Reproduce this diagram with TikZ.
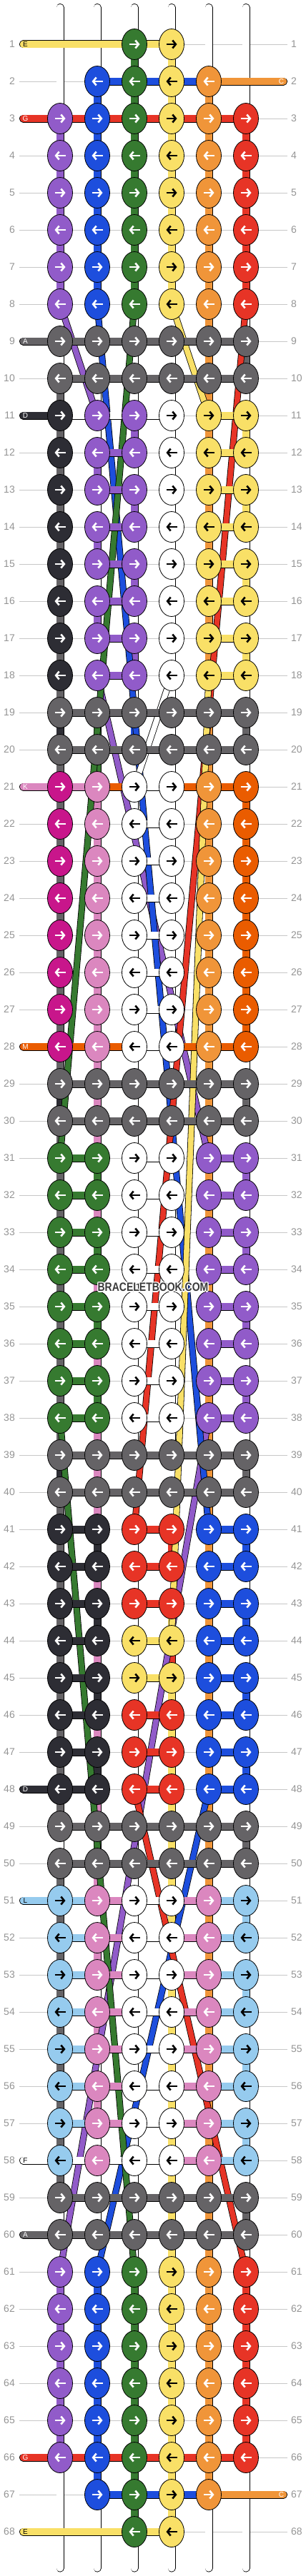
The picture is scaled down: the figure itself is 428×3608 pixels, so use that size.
\documentclass[tikz,border=0pt]{standalone}
\usepackage{fontspec}
\setmainfont{Liberation Sans}
\usetikzlibrary{shapes.geometric,arrows.meta}
\definecolor{kcp}{HTML}{915BC9}\colorlet{kap}{white}
\definecolor{kcb}{HTML}{1D4EDD}\colorlet{kab}{white}
\definecolor{kcg}{HTML}{367A30}\colorlet{kag}{white}
\definecolor{kcy}{HTML}{F9E067}\colorlet{kay}{black}
\definecolor{kco}{HTML}{F09539}\colorlet{kao}{white}
\definecolor{kcr}{HTML}{E73426}\colorlet{kar}{white}
\definecolor{kca}{HTML}{656366}\colorlet{kaa}{white}
\definecolor{kcd}{HTML}{2D2D34}\colorlet{kad}{white}
\definecolor{kcw}{HTML}{FFFFFF}\colorlet{kaw}{black}
\definecolor{kcm}{HTML}{C8168B}\colorlet{kam}{white}
\definecolor{kck}{HTML}{DB87BF}\colorlet{kak}{white}
\definecolor{kcn}{HTML}{EA5C00}\colorlet{kan}{white}
\definecolor{kcl}{HTML}{96CBEE}\colorlet{kal}{black}
\definecolor{wmark}{HTML}{3A3A3A}
\pgfdeclarelayer{bg}\pgfdeclarelayer{vc}\pgfdeclarelayer{flt}\pgfdeclarelayer{hc}
\pgfsetlayers{bg,vc,flt,hc,main}
\newcommand\knot[3]{%
  \node[knot, fill=kc#3] (k#1-#2) at ({84+52*(#2-1)},{62+52*(#1-1)}) {};
  \ifodd#1\relax
    \draw[arw, draw=ka#3] ([xshift=-7.5pt]k#1-#2.center) -- ([xshift=7.5pt]k#1-#2.center);
  \else
    \draw[arw, draw=ka#3] ([xshift=7.5pt]k#1-#2.center) -- ([xshift=-7.5pt]k#1-#2.center);
  \fi}
\newcommand\krow[2]{\foreach \cc/\c in {#2}{\knot{#1}{\c}{\cc}}}
\newcommand\vgap[2]{\pgfmathtruncatemacro\nr{#1+1}%
  \foreach \cc/\c in {#2}{\draw[conn=\cc] (k#1-\c.center) -- (k\nr-\c.center);}}
\newcommand\hrow[2]{\foreach \cc/\c in {#2}{\pgfmathtruncatemacro\nc{\c+1}%
  \draw[conn=\cc] (k#1-\c.center) -- (k#1-\nc.center);}}
\newcommand\lpill[5]{%
  \coordinate (e#1) at (32.5,{62+52*(#1-1)});
  \draw[conn=#3, line cap=round] (e#1) -- (k#1-#2.center);
  \node[pilllab, text=#5] (el#1) at (35.5,{62+52*(#1-1)}) {#4};}
\newcommand\rpill[3]{%
  \coordinate (f#1) at (396.5,{62+52*(#1-1)});
  \draw[conn=#2, line cap=round] (k#1-5.center) -- (f#1);
  \node[pilllab, text=white] (fl#1) at (393.5,{62+52*(#1-1)}) {#3};}
\newcommand\tube[2]{%
  \draw[conn=w, line cap=round] (#1) -- (#2.center);
  \draw[black!35, line width=2.6pt] (#1) -- (#2.center);
  \draw[white, line width=1.1pt] (#1) -- (#2.center);}
\begin{document}
\begin{tikzpicture}[x=1pt,y=-1pt,
  knot/.style={ellipse, draw=black, line width=0.8pt, minimum width=35pt, minimum height=43pt, inner sep=0pt},
  arw/.style={line width=2.6pt, -{Straight Barb[length=4.5pt,width=11pt]}},
  conn/.style={line width=0.8pt, draw=black, double=kc#1, double distance=9.4pt},
  fstr/.style={line width=0.8pt, draw=black, double=kc#1, double distance=7.6pt},
  rowline/.style={draw=black!22, line width=0.9pt},
  rowlab/.style={text=black!42, font=\fontsize{14}{14}\selectfont, inner sep=0pt},
  pilllab/.style={font=\fontsize{10}{10}\selectfont, inner sep=0pt},
  wmk/.style={font=\fontsize{14}{14}\selectfont\bfseries, inner sep=0pt}]
\useasboundingbox (0,0) rectangle (428,3608);
% knots
\krow{1}{g/3,y/4}
\krow{2}{b/2,g/3,y/4,o/5}
\foreach \r in {3,...,8}{\krow{\r}{p/1,b/2,g/3,y/4,o/5,r/6}}
\foreach \r in {9,10,19,20,29,30,39,40,49,50,59,60}{\krow{\r}{a/1,a/2,a/3,a/4,a/5,a/6}}
\foreach \r in {11,...,18}{\krow{\r}{d/1,p/2,p/3,w/4,y/5,y/6}}
\foreach \r in {21,...,28}{\krow{\r}{m/1,k/2,w/3,w/4,o/5,n/6}}
\foreach \r in {31,...,38}{\krow{\r}{g/1,g/2,w/3,w/4,p/5,p/6}}
\foreach \r in {41,42,43,46,47,48}{\krow{\r}{d/1,d/2,r/3,r/4,b/5,b/6}}
\foreach \r in {44,45}{\krow{\r}{d/1,d/2,y/3,y/4,b/5,b/6}}
\foreach \r in {51,...,58}{\krow{\r}{l/1,k/2,w/3,w/4,k/5,l/6}}
\foreach \r in {61,...,66}{\krow{\r}{p/1,b/2,g/3,y/4,o/5,r/6}}
\krow{67}{b/2,g/3,y/4,o/5}
\krow{68}{g/3,y/4}
% row lines and labels
\begin{pgfonlayer}{bg}
\foreach \r in {1,...,68}{
  \coordinate (gl\r) at (27,{62+52*(\r-1)});
  \coordinate (gr\r) at (402,{62+52*(\r-1)});
  \draw[rowline] (gl\r) -- (gr\r);
  \node[rowlab, anchor=east] (ll\r) at (21,{62+52*(\r-1)}) {\r};
  \node[rowlab, anchor=west] (rl\r) at (407,{62+52*(\r-1)}) {\r};
}
\end{pgfonlayer}
% vertical connectors and tubes
\begin{pgfonlayer}{vc}
\foreach \c in {1,...,6}{
  \coordinate (t\c) at ({84+52*(\c-1)},10.5);
  \coordinate (u\c) at ({84+52*(\c-1)},3597);}
\tube{t1}{k3-1}\tube{t2}{k2-2}\tube{t3}{k1-3}\tube{t4}{k1-4}\tube{t5}{k2-5}\tube{t6}{k3-6}
\tube{u1}{k66-1}\tube{u2}{k67-2}\tube{u3}{k68-3}\tube{u4}{k68-4}\tube{u5}{k67-5}\tube{u6}{k66-6}
\vgap{1}{g/3,y/4}
\vgap{2}{b/2,g/3,y/4,o/5}
\foreach \r in {3,...,7}{\vgap{\r}{p/1,b/2,g/3,y/4,o/5,r/6}}
\vgap{8}{w/1,w/2,w/3,w/4,o/5,w/6}
\vgap{9}{w/1,w/2,w/3,w/4,o/5,a/6}
\vgap{10}{a/1,w/2,w/3,w/4,o/5,w/6}
\foreach \r in {11,13,15,17}{\vgap{\r}{a/1,w/2,p/3,w/4,o/5,y/6}}
\foreach \r in {12,14,16}{\vgap{\r}{a/1,p/2,w/3,w/4,o/5,w/6}}
\vgap{18}{a/1,w/2,w/3,w/4,o/5,w/6}
\vgap{19}{d/1,g/2,b/3,w/4,o/5,a/6}
\vgap{20}{a/1,g/2,w/3,w/4,o/5,w/6}
\foreach \r in {21,...,27}{\vgap{\r}{a/1,k/2,w/3,w/4,o/5,n/6}}
\vgap{28}{a/1,k/2,w/3,w/4,o/5,w/6}
\vgap{29}{d/1,k/2,w/3,w/4,o/5,a/6}
\vgap{30}{a/1,k/2,w/3,w/4,o/5,w/6}
\foreach \r in {31,33,35,37}{\vgap{\r}{a/1,g/2,w/3,w/4,o/5,p/6}}
\foreach \r in {32,34,36,38}{\vgap{\r}{a/1,k/2,w/3,w/4,o/5,w/6}}
\vgap{39}{d/1,k/2,w/3,w/4,o/5,a/6}
\vgap{40}{a/1,k/2,w/3,w/4,o/5,w/6}
\vgap{41}{a/1,d/2,w/3,r/4,o/5,b/6}
\vgap{42}{a/1,k/2,w/3,w/4,o/5,w/6}
\vgap{43}{a/1,d/2,w/3,y/4,o/5,b/6}
\vgap{44}{a/1,k/2,w/3,r/4,o/5,w/6}
\vgap{45}{a/1,d/2,w/3,y/4,o/5,b/6}
\vgap{46}{a/1,k/2,w/3,y/4,o/5,w/6}
\vgap{47}{a/1,d/2,w/3,y/4,o/5,b/6}
\vgap{48}{a/1,k/2,w/3,y/4,o/5,w/6}
\vgap{49}{w/1,g/2,w/3,y/4,o/5,a/6}
\vgap{50}{a/1,k/2,w/3,y/4,o/5,w/6}
\foreach \r in {51,53,55,57}{\vgap{\r}{a/1,w/2,w/3,y/4,o/5,l/6}}
\foreach \r in {52,54,56}{\vgap{\r}{a/1,k/2,w/3,y/4,o/5,w/6}}
\vgap{58}{a/1,w/2,w/3,y/4,o/5,w/6}
\vgap{59}{w/1,w/2,w/3,y/4,o/5,a/6}
\vgap{60}{w/1,w/2,w/3,y/4,o/5,w/6}
\foreach \r in {61,...,65}{\vgap{\r}{p/1,b/2,g/3,y/4,o/5,r/6}}
\vgap{66}{b/2,g/3,y/4,o/5}
\vgap{67}{g/3,y/4}
\end{pgfonlayer}
% floating strings
\begin{pgfonlayer}{flt}
\draw[fstr=p] (k8-1.center) -- (k11-2.center);
\draw[fstr=p] (k18-2.center) -- (k31-5.center);
\draw[fstr=p] (k38-5.center) -- (k61-1.center);
\draw[fstr=b] (k8-2.center) -- (k41-5.center);
\draw[fstr=b] (k48-5.center) -- (k61-2.center);
\draw[fstr=r] (k8-6.center) -- (k41-3.center);
\draw[fstr=r] (k48-3.center) -- (k61-6.center);
\draw[fstr=g] (k8-3.center) -- (k31-1.center);
\draw[fstr=g] (k38-1.center) -- (k61-3.center);
\draw[fstr=y] (k8-4.center) -- (k11-5.center);
\draw[fstr=y] (k18-5.center) -- (k44-4.center);
\draw[fstr=w] (k18-4.center) -- (k21-3.center);
\end{pgfonlayer}
% horizontal connectors and edge strings
\begin{pgfonlayer}{hc}
\hrow{1}{y/3}
\hrow{2}{b/2,b/3,b/4}
\hrow{3}{r/1,r/2,r/3,r/4,r/5}
\foreach \r in {9,10,19,20,29,30,39,40,49,50,59,60}{\hrow{\r}{a/1,a/2,a/3,a/4,a/5}}
\hrow{11}{w/1,w/2,w/3,y/5}
\foreach \r in {12,...,18}{\hrow{\r}{p/2,y/5}}
\hrow{21}{k/1,n/2,w/3,n/4,n/5}
\foreach \r in {22,...,27}{\hrow{\r}{w/3}}
\hrow{28}{n/1,n/2,w/3,n/4,n/5}
\foreach \r in {31,...,38}{\hrow{\r}{g/1,w/3,p/5}}
\foreach \r in {41,42,43,46,47,48}{\hrow{\r}{d/1,r/3,b/5}}
\foreach \r in {44,45}{\hrow{\r}{d/1,y/3,b/5}}
\foreach \r in {51,...,57}{\hrow{\r}{l/1,k/2,w/3,k/4,l/5}}
\hrow{58}{w/1,w/2,w/3,k/4,l/5}
\hrow{66}{r/1,r/2,r/3,r/4,r/5}
\hrow{67}{b/2,b/3,b/4}
\hrow{68}{y/3}
\lpill{1}{3}{y}{E}{black}
\lpill{3}{1}{r}{G}{white}
\lpill{9}{1}{a}{A}{white}
\lpill{11}{1}{d}{D}{white}
\lpill{21}{1}{k}{K}{white}
\lpill{28}{1}{n}{M}{white}
\lpill{48}{1}{d}{D}{white}
\lpill{51}{1}{l}{L}{black}
\lpill{58}{1}{w}{F}{black}
\lpill{60}{1}{a}{A}{white}
\lpill{66}{1}{r}{G}{white}
\lpill{68}{3}{y}{E}{black}
\rpill{2}{o}{C}
\rpill{67}{o}{C}
\end{pgfonlayer}
% watermark
\foreach \dx/\dy [count=\i] in {-1.3/0,1.3/0,0/-1.3,0/1.3,-1/-1,1/1,-1/1,1/-1}{
  \node[wmk, text=white] (wh\i) at ({214+\dx},{1803+\dy}) {\scalebox{1}[1.2]{BRACELETBOOK.COM}};}
\node[wmk, text=wmark] (wm) at (214,1803) {\scalebox{1}[1.2]{BRACELETBOOK.COM}};
\end{tikzpicture}
\end{document}
